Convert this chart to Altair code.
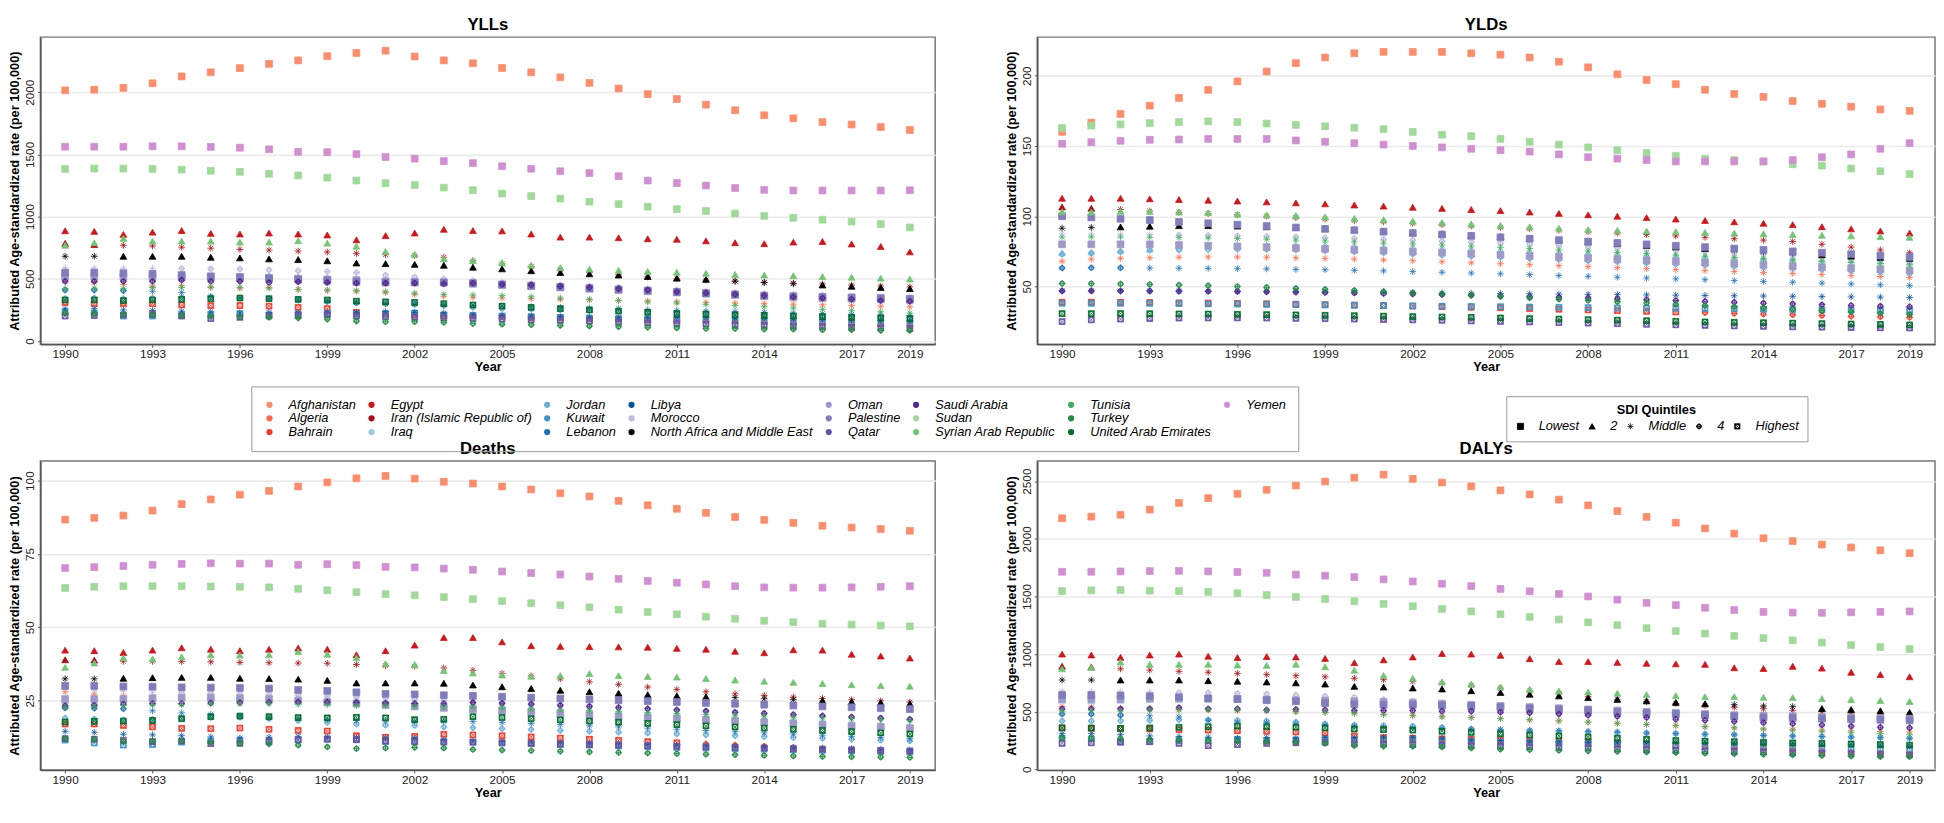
import altair as alt
import pandas as pd

YEARS = list(range(1990, 2020))

COUNTRIES = ["Afghanistan", "Algeria", "Bahrain", "Egypt", "Iran (Islamic Republic of)", "Iraq",
             "Jordan", "Kuwait", "Lebanon", "Libya", "Morocco", "North Africa and Middle East",
             "Oman", "Palestine", "Qatar", "Saudi Arabia", "Sudan", "Syrian Arab Republic",
             "Tunisia", "Turkey", "United Arab Emirates", "Yemen"]
COLORS = ["#FB8D6C", "#FB6A4A", "#EF3B2C", "#CB181D", "#A50F15", "#9ECAE1",
          "#6BAED6", "#4292C6", "#2171B5", "#08519C", "#BCBDDC", "#000000",
          "#9E9AC8", "#807DBA", "#6A51A3", "#54278F", "#A1D99B", "#74C476",
          "#41AB5D", "#238B45", "#006D2C", "#CF8FD0"]

QUINTILES = ["Lowest", "2", "Middle", "4", "Highest"]
ASTERISK = "M-1,0L1,0M0,-1L0,1M-0.7,-0.7L0.7,0.7M-0.7,0.7L0.7,-0.7"
CIRCLE_PLUS = ("M0,-0.75A0.75,0.75,0,1,1,0,0.75A0.75,0.75,0,1,1,0,-0.75Z"
               "M0,-0.55A0.55,0.55,0,1,0,0,0.55A0.55,0.55,0,1,0,0,-0.55Z"
               "M-1,0L1,0M0,-1L0,1")
BOXED_X = ("M-0.85,-0.85L0.85,-0.85L0.85,0.85L-0.85,0.85Z"
           "M-0.62,-0.62L-0.62,0.62L0.62,0.62L0.62,-0.62Z"
           "M-0.85,-0.85L0.85,0.85M-0.85,0.85L0.85,-0.85")
SHAPES = ["square", "triangle-up", ASTERISK, CIRCLE_PLUS, BOXED_X]

# SDI quintile of each location, with the year from which it applies
SDI_AFGHANISTAN = [(1990, "Lowest")]
SDI_ALGERIA = [(1990, "Middle")]
SDI_BAHRAIN = [(1990, "Highest"), (2012, "4")]
SDI_EGYPT = [(1990, "2")]
SDI_IRAN = [(1990, "2"), (1992, "Middle")]
SDI_IRAQ = [(1990, "2")]
SDI_JORDAN = [(1990, "4")]
SDI_KUWAIT = [(1990, "Highest")]
SDI_LEBANON = [(1990, "4"), (1993, "Middle")]
SDI_LIBYA = [(1990, "Middle")]
SDI_MOROCCO = [(1990, "Middle"), (1994, "4")]
SDI_NAME = [(1990, "Middle"), (1992, "2"), (2013, "Middle"), (2016, "2")]
SDI_OMAN = [(1990, "Lowest")]
SDI_PALESTINE = [(1990, "Lowest")]
SDI_QATAR = [(1990, "Highest")]
SDI_SAUDI = [(1990, "4")]
SDI_SUDAN = [(1990, "Lowest")]
SDI_SYRIA = [(1990, "2")]
SDI_TUNISIA = [(1990, "Middle")]
SDI_TURKEY = [(1990, "4")]
SDI_UAE = [(1990, "Highest")]
SDI_YEMEN = [(1990, "Lowest")]

# ---------------- YLLs ----------------
yll_afghanistan = [2015, 2020, 2035, 2072, 2127, 2160, 2194, 2228, 2256, 2290, 2316, 2334, 2287, 2256, 2233, 2195, 2160, 2120, 2075, 2030, 1985, 1945, 1900, 1855, 1815, 1790, 1760, 1740, 1720, 1696]
yll_algeria = [480, 470, 455, 440, 445, 430, 425, 430, 415, 405, 400, 390, 375, 360, 350, 345, 340, 335, 330, 325, 320, 315, 310, 305, 300, 295, 290, 285, 280, 275]
yll_bahrain = [310, 300, 300, 300, 290, 285, 285, 280, 270, 260, 230, 215, 210, 205, 200, 195, 190, 185, 180, 175, 170, 165, 160, 155, 150, 145, 140, 135, 130, 125]
yll_egypt = [886, 881, 857, 875, 888, 865, 860, 868, 860, 852, 813, 847, 868, 898, 888, 885, 860, 835, 835, 830, 822, 818, 805, 790, 782, 795, 800, 780, 760, 716]
yll_iran = [785, 775, 769, 764, 754, 746, 736, 731, 723, 715, 704, 694, 686, 673, 645, 620, 598, 575, 552, 532, 515, 500, 490, 480, 472, 465, 458, 450, 442, 435]
yll_iraq = [520, 515, 520, 525, 520, 525, 520, 530, 520, 510, 500, 490, 480, 470, 460, 450, 440, 430, 420, 410, 400, 395, 390, 385, 380, 375, 370, 360, 355, 350]
yll_jordan = [340, 345, 340, 345, 350, 350, 345, 340, 330, 315, 305, 300, 295, 285, 270, 260, 255, 250, 245, 240, 235, 230, 225, 220, 215, 210, 205, 200, 195, 190]
yll_kuwait = [230, 225, 200, 200, 210, 210, 220, 210, 215, 220, 215, 220, 225, 210, 205, 200, 195, 190, 185, 180, 175, 170, 165, 160, 155, 150, 150, 145, 140, 140]
yll_lebanon = [410, 410, 405, 400, 390, 360, 345, 340, 330, 320, 310, 300, 295, 290, 285, 280, 275, 270, 265, 260, 250, 245, 240, 235, 230, 225, 220, 215, 210, 205]
yll_libya = [260, 260, 250, 245, 240, 235, 225, 230, 225, 230, 230, 235, 230, 225, 210, 205, 200, 195, 190, 185, 185, 190, 190, 185, 185, 180, 175, 170, 165, 160]
yll_morocco = [590, 588, 586, 584, 583, 580, 578, 572, 565, 558, 550, 530, 515, 500, 485, 470, 460, 450, 440, 430, 420, 410, 400, 390, 380, 370, 362, 355, 350, 345]
yll_name = [681, 681, 681, 681, 681, 673, 668, 660, 655, 645, 627, 622, 616, 609, 593, 580, 565, 550, 540, 530, 518, 505, 495, 482, 470, 460, 450, 440, 430, 421]
yll_oman = [520, 520, 515, 515, 510, 510, 505, 505, 500, 495, 490, 480, 475, 470, 460, 450, 440, 430, 420, 410, 400, 390, 380, 370, 360, 350, 345, 340, 335, 330]
yll_palestine = [550, 550, 545, 540, 530, 520, 515, 505, 495, 485, 475, 470, 470, 470, 465, 455, 445, 435, 425, 415, 405, 395, 385, 375, 365, 360, 355, 350, 345, 340]
yll_qatar = [200, 205, 210, 215, 200, 180, 190, 200, 205, 210, 200, 195, 190, 185, 180, 175, 170, 165, 160, 150, 145, 140, 135, 130, 125, 120, 115, 110, 105, 100]
yll_saudi = [480, 480, 480, 480, 490, 480, 480, 470, 475, 470, 465, 465, 465, 460, 465, 455, 450, 440, 430, 420, 410, 395, 385, 375, 365, 355, 345, 335, 325, 320]
yll_sudan = [1383, 1386, 1386, 1383, 1378, 1368, 1360, 1344, 1331, 1313, 1290, 1269, 1254, 1233, 1212, 1185, 1165, 1145, 1120, 1100, 1080, 1060, 1045, 1025, 1005, 990, 975, 960, 940, 913]
yll_syria = [769, 790, 824, 803, 803, 803, 795, 795, 806, 787, 762, 720, 697, 661, 647, 630, 610, 590, 578, 568, 560, 553, 545, 535, 530, 525, 518, 512, 505, 498]
yll_tunisia = [420, 425, 420, 430, 430, 435, 430, 425, 415, 410, 405, 395, 385, 375, 370, 365, 355, 345, 335, 325, 315, 305, 295, 285, 275, 265, 255, 245, 235, 225]
yll_turkey = [225, 220, 215, 210, 205, 200, 195, 190, 185, 175, 160, 155, 155, 150, 140, 135, 130, 125, 120, 115, 110, 105, 100, 100, 95, 95, 90, 90, 85, 85]
yll_uae = [330, 330, 325, 330, 335, 340, 345, 340, 335, 330, 320, 315, 310, 300, 290, 280, 270, 260, 250, 240, 230, 220, 215, 210, 205, 200, 195, 190, 185, 180]
yll_yemen = [1562, 1562, 1562, 1565, 1565, 1560, 1554, 1541, 1520, 1518, 1502, 1479, 1466, 1446, 1430, 1405, 1385, 1365, 1350, 1325, 1290, 1270, 1250, 1230, 1215, 1210, 1210, 1210, 1210, 1212]

# ---------------- YLDs ----------------
yld_afghanistan = [160.1, 166.6, 172.8, 178.7, 184.2, 189.9, 196, 203, 209, 213, 216, 217, 217, 217, 216, 215, 213, 210, 206, 201, 197, 194, 190, 187, 185, 182, 180, 178, 176, 175]
yld_algeria = [67.9, 69.5, 70, 70.4, 70.8, 71, 71, 70.8, 70.4, 70, 69.5, 68.9, 68.3, 67.6, 66.9, 66.2, 65.5, 64.8, 64.1, 63.4, 62.7, 62, 61.3, 60.6, 59.9, 59.2, 58.5, 57.8, 57.1, 56.4]
yld_bahrain = [38.8, 38.8, 38.7, 38.6, 38.4, 38.2, 38, 37.7, 37.4, 37.1, 36.8, 36.4, 36, 35.6, 35.2, 34.8, 34.3, 33.8, 33.3, 32.8, 32.3, 31.8, 31.3, 30.8, 30.3, 29.8, 29.3, 28.8, 28.4, 28]
yld_egypt = [112.8, 112.8, 112.8, 112.4, 111.9, 111.4, 110.8, 110.2, 109.5, 108.8, 108, 107.2, 106.4, 105.6, 104.8, 104, 103, 102, 101, 100, 99, 98, 97, 96, 95, 94, 92.5, 91, 89.5, 88]
yld_iran = [106.6, 105.7, 104.8, 103.7, 102.8, 101.9, 101, 100, 99, 98, 97, 96, 95, 94, 93, 92, 91, 90, 89, 88, 87, 86, 85, 84, 83, 82, 80, 78, 76, 74]
yld_iraq = [74, 74.5, 75.5, 76.5, 78.9, 79, 79.3, 79.5, 79.4, 79.2, 78.8, 78.3, 77.8, 77.2, 76.6, 76, 75.4, 74.8, 74.2, 73.6, 73, 72.4, 71.8, 71.2, 70.6, 70, 69.4, 68.8, 68.2, 67.6]
yld_jordan = [72.9, 73.8, 74.8, 75.9, 75.9, 76.3, 76.5, 76.4, 76, 75.4, 74.7, 74, 73.2, 72.4, 71.6, 70.8, 70, 69.2, 68.4, 67.6, 66.8, 66, 65.2, 64.4, 63.6, 62.8, 62, 61.2, 60.4, 59.6]
yld_kuwait = [38, 38, 38, 38, 37.8, 37.6, 37.4, 37.2, 37, 36.8, 36.6, 36.4, 36.2, 36, 35.8, 35.6, 35.4, 35.2, 35, 34.8, 34.6, 34.4, 34.2, 34, 33.8, 33.6, 33.4, 33.2, 33, 32.8]
yld_lebanon = [63.1, 63.3, 63.3, 63.1, 63, 62.9, 62.7, 62.5, 62.2, 61.9, 61.5, 61.1, 60.6, 60.1, 59.6, 59, 58.4, 57.8, 57.2, 56.6, 56, 55.4, 54.8, 54.2, 53.6, 53, 52.4, 51.8, 51.2, 50.6]
yld_libya = [47, 47, 46.9, 46.8, 46.7, 46.6, 46.5, 46.4, 46.3, 46.2, 46, 45.8, 45.6, 45.4, 45.2, 45, 44.8, 44.6, 44.4, 44.2, 44, 43.8, 43.6, 43.4, 43.2, 43, 42.8, 42.6, 42.4, 42.2]
yld_morocco = [87.4, 87.3, 87.1, 86.9, 86.6, 86.3, 86, 85.6, 85.2, 84.7, 84.2, 83.6, 83, 82.3, 81.6, 80.8, 80, 79.2, 78.4, 77.5, 76.6, 75.7, 74.8, 73.9, 73, 72, 71, 70, 69, 68]
yld_name = [91.5, 92, 92.4, 92.9, 93.3, 93.3, 93, 92.5, 92, 91.3, 90.5, 89.5, 88.5, 87.5, 86.5, 85.5, 84.3, 83, 81.8, 80.5, 79.3, 78.2, 77, 75.8, 74.7, 73.6, 72.6, 71.6, 70.7, 70]
yld_oman = [80, 80, 80, 80, 79.5, 79, 78.5, 78, 77.4, 76.8, 76.2, 75.5, 74.8, 74.1, 73.4, 72.6, 71.8, 71, 70.2, 69.4, 68.6, 67.8, 67, 66.2, 65.4, 64.6, 63.8, 63, 62.2, 61.4]
yld_palestine = [100, 99.2, 98.2, 97.3, 95.9, 95, 94, 93, 92, 91, 90, 89, 88, 87, 86, 85, 84, 83, 82, 81, 80, 79, 78, 77, 76, 75, 74, 73, 72, 71]
yld_qatar = [25, 26.2, 26.8, 27.2, 27.5, 27.6, 27.6, 27.5, 27.3, 27.1, 26.8, 26.5, 26.2, 25.9, 25.5, 25.1, 24.7, 24.3, 23.9, 23.5, 23.1, 22.7, 22.3, 21.9, 21.6, 21.3, 21, 20.8, 20.6, 20.4]
yld_saudi = [46.8, 46.8, 46.8, 46.8, 46.7, 46.6, 46.4, 46.2, 46, 45.7, 45.4, 45, 44.6, 44.2, 43.8, 43.3, 42.8, 42.3, 41.8, 41.2, 40.6, 40, 39.4, 38.8, 38.2, 37.6, 37, 36.5, 36, 35.6]
yld_sudan = [162.8, 164.5, 165.4, 166.3, 167, 167.5, 167, 166, 165, 164, 163, 162, 160, 158, 157, 155, 153, 151, 149, 147, 145, 143, 141, 140, 139, 137, 136, 134, 132, 130]
yld_syria = [103.2, 103, 103.5, 103.5, 103, 102.5, 101.5, 101, 100.5, 99.5, 98.5, 97.5, 96.5, 95.5, 94.5, 93.5, 92.5, 91.5, 90.5, 90, 89.5, 89, 88.5, 88, 87.5, 87, 86.5, 86, 85.5, 85]
yld_tunisia = [85.1, 85.2, 85.2, 85, 84.8, 84.5, 84.1, 83.6, 83, 82.4, 81.7, 81, 80.3, 79.5, 78.7, 77.9, 77, 76.1, 75.2, 74.3, 73.4, 72.5, 71.6, 70.7, 69.8, 68.9, 68, 67.1, 66.2, 65.3]
yld_turkey = [52.1, 52, 51.8, 51.5, 51.1, 50.6, 50, 49.4, 48.7, 48, 47.2, 46.4, 45.5, 44.6, 43.7, 42.8, 41.9, 41, 40.1, 39.2, 38.3, 37.4, 36.5, 35.6, 34.7, 33.8, 32.9, 32, 31, 30]
yld_uae = [30.7, 30.7, 30.7, 30.6, 30.5, 30.4, 30.2, 30, 29.8, 29.5, 29.2, 28.9, 28.6, 28.3, 28, 27.6, 27.2, 26.8, 26.4, 26, 25.6, 25.2, 24.8, 24.5, 24.2, 23.9, 23.6, 23.3, 23, 22.7]
yld_yemen = [151.6, 152.7, 153.7, 154.4, 154.6, 155, 155, 155, 154, 153, 152, 151, 150, 149, 148, 147, 146, 144, 142, 141, 140, 139, 139, 139, 139, 140, 142, 144, 148, 152]

# ---------------- Deaths ----------------
death_afghanistan = [86.7, 87.3, 88.1, 89.8, 92.0, 93.6, 95.2, 96.5, 98.0, 99.4, 100.8, 101.6, 100.7, 99.6, 99.0, 98.0, 97.0, 95.7, 94.6, 93.1, 91.6, 90.4, 89.0, 87.6, 86.6, 85.6, 84.6, 84.0, 83.5, 82.9]
death_algeria = [28, 27.2, 26.6, 26.2, 25.8, 25.5, 25.2, 24.9, 24.6, 24.3, 24, 23.7, 23.2, 22.6, 22, 21.5, 21, 20.6, 20.2, 19.8, 19.4, 19, 18.6, 18.2, 17.8, 17.4, 17, 16.6, 16.2, 15.8]
death_bahrain = [17, 17, 16.5, 16, 15.5, 15.4, 15.6, 15.2, 14.8, 14.6, 13, 12.5, 12.8, 13.5, 13.3, 13, 12.6, 12.2, 11.8, 11.4, 11, 10.6, 10.2, 9.8, 9.4, 9, 8.6, 8.2, 7.8, 7.5]
death_egypt = [42.2, 42.0, 41.4, 42.2, 43.0, 42.5, 42.0, 42.5, 42.9, 42.5, 40.6, 42.0, 43.9, 46.5, 46.5, 45.0, 43.7, 43.5, 43.4, 43.3, 43.2, 42.8, 42.5, 41.8, 41.3, 42.3, 42.2, 40.8, 40.2, 39.5]
death_iran = [38.9, 38.8, 38.4, 38.4, 38.3, 38.2, 38.0, 37.9, 37.8, 37.7, 37.3, 36.9, 36.7, 36.1, 35.3, 34.3, 33.4, 32.4, 31.4, 30.5, 29.6, 28.8, 28.0, 27.3, 26.7, 26.2, 25.7, 25.3, 24.9, 24.5]
death_iraq = [25, 24.5, 25.5, 26, 26, 26.5, 26, 26, 26, 26, 25.5, 25, 24.5, 24, 24, 23.5, 23, 22.5, 22, 21.5, 21, 20.5, 20, 19.5, 19, 18.5, 18, 17.5, 17, 16.5]
death_jordan = [19, 18.7, 18.4, 18.6, 19, 19.2, 19.3, 18.8, 18.2, 17.5, 17, 16.6, 16.5, 16, 15.7, 15.4, 15.1, 14.8, 14.5, 14.2, 13.9, 13.6, 13.3, 13, 12.7, 12.4, 12.1, 11.8, 11.5, 11.2]
death_kuwait = [11.5, 10.5, 9.8, 10, 10.8, 11.2, 11.5, 11.3, 11.6, 11.8, 11.6, 11, 11.3, 11, 10.8, 10.5, 10.3, 10, 9.8, 9.5, 9.3, 9, 8.8, 8.6, 8.4, 8.2, 8, 7.8, 7.6, 7.4]
death_lebanon = [22.5, 22.4, 22.2, 21.5, 20.8, 20.2, 19.8, 19.3, 18.8, 18.5, 18.2, 18, 17.9, 17.9, 17.8, 17.5, 17.2, 16.8, 16.4, 16, 15.6, 15.2, 14.8, 14.4, 14, 13.6, 13.2, 12.8, 12.4, 12]
death_libya = [14.5, 14.2, 13.5, 13.3, 13, 12.6, 12.2, 12.5, 12.8, 12.5, 12.4, 12.3, 12.2, 11.6, 11.2, 11, 10.8, 10.6, 10.4, 10.2, 10, 9.8, 9.6, 9.4, 9.2, 9, 8.8, 8.6, 8.4, 8.2]
death_morocco = [29, 28.5, 28.2, 27.8, 27.6, 27.4, 27.2, 27, 26.8, 26.5, 26.2, 25.8, 25.4, 25, 24.6, 24.2, 23.8, 23.4, 23, 22.6, 22.2, 21.8, 21.4, 21, 20.6, 20.2, 19.8, 19.4, 19, 18.6]
death_name = [32.4, 32.4, 32.6, 32.8, 32.9, 32.9, 32.6, 32.5, 32.3, 31.9, 31.0, 31.0, 31.0, 30.9, 30.3, 29.7, 29.1, 28.5, 28.0, 27.5, 27.0, 26.6, 26.3, 26.0, 25.6, 25.3, 25.0, 24.6, 24.3, 23.9]
death_oman = [25.5, 25.5, 25.5, 25.8, 26, 26, 25.8, 25.5, 25, 24.5, 24, 23.5, 23, 22.5, 22, 21.5, 21, 20.5, 20, 19.6, 19.2, 18.8, 18.4, 18, 17.6, 17.2, 16.8, 16.4, 16, 15.6]
death_palestine = [30, 30, 29.8, 29.7, 29.5, 29.4, 29.3, 29.1, 28.6, 28.3, 27.8, 27.3, 27.1, 26.8, 26.6, 26.3, 26, 25.7, 25.4, 25.1, 24.8, 24.5, 24.2, 23.9, 23.6, 23.3, 23, 22.7, 22.4, 22.1]
death_qatar = [12, 11.8, 11.4, 11, 11.2, 10.3, 10.4, 11, 11.6, 11.9, 11.7, 11.2, 10.9, 10.8, 10.8, 10.6, 10.4, 10.2, 10, 9.8, 9.6, 9.4, 9.2, 9, 8.8, 8.6, 8.4, 8.2, 8, 7.8]
death_saudi = [23.2, 23.4, 23.8, 24, 24, 24.2, 24.3, 24.4, 24.5, 24.5, 24.3, 24.1, 24, 24, 24.3, 24.1, 23.8, 23.4, 23, 22.6, 22.2, 21.8, 21.4, 21, 20.6, 20.2, 19.8, 19.4, 19, 18.6]
death_sudan = [63.4, 63.8, 64.0, 64.0, 64.0, 63.9, 63.8, 63.6, 63.1, 62.6, 62.0, 61.3, 60.9, 60.3, 59.6, 58.9, 58.2, 57.5, 56.8, 56.0, 55.2, 54.4, 53.6, 52.9, 52.2, 51.7, 51.2, 50.9, 50.6, 50.3]
death_syria = [36.3, 37.8, 39.6, 39.2, 39.9, 40.6, 40.5, 40.6, 41.7, 40.8, 39.6, 37.6, 37.3, 35.2, 34.4, 33.7, 33.3, 33.5, 34.2, 33.5, 33.2, 33.0, 32.5, 32.0, 31.6, 31.2, 30.8, 30.4, 30.1, 29.9]
death_tunisia = [22.6, 23, 23.3, 23.5, 23.6, 23.8, 23.9, 23.9, 23.7, 23.5, 23.3, 23.2, 23, 22.8, 22.7, 22.4, 22.1, 21.8, 21.5, 21.2, 20.9, 20.6, 20.3, 20, 19.7, 19.4, 19.1, 18.8, 18.5, 18.2]
death_turkey = [12, 11.8, 11, 11.2, 11.3, 10.8, 10.5, 10.2, 9.8, 9.2, 8.6, 8.8, 9, 8.8, 8.3, 8.1, 7.9, 7.7, 7.5, 7.3, 7.1, 6.9, 6.7, 6.5, 6.3, 6.1, 5.9, 5.8, 5.7, 5.6]
death_uae = [17.7, 17.9, 18, 18.2, 18.8, 19.5, 19.7, 19.5, 19.2, 19.1, 19.3, 19.1, 18.5, 18.6, 19.5, 19.2, 18.8, 18.4, 18, 17.6, 17.2, 16.8, 16.4, 16, 15.6, 15.2, 14.8, 14.4, 14, 13.6]
death_yemen = [70.2, 70.5, 70.9, 71.3, 71.6, 71.8, 71.7, 71.7, 71.3, 71.5, 71.2, 70.6, 70.4, 70.0, 69.6, 69.0, 68.5, 68.0, 67.3, 66.5, 65.8, 65.2, 64.6, 64.0, 63.6, 63.5, 63.5, 63.6, 63.8, 64.0]

# ---------------- DALYs ----------------
daly_afghanistan = [2178, 2192, 2208, 2253, 2311, 2353, 2390, 2425, 2462, 2497, 2530, 2557, 2520, 2488, 2455, 2420, 2385, 2340, 2290, 2240, 2190, 2140, 2090, 2045, 2005, 1980, 1950, 1925, 1900, 1875]
daly_algeria = [545, 540, 530, 525, 520, 515, 510, 510, 500, 495, 490, 480, 470, 460, 450, 440, 430, 420, 410, 400, 390, 380, 370, 360, 350, 345, 340, 335, 330, 325]
daly_bahrain = [360, 355, 355, 350, 345, 340, 335, 330, 325, 315, 290, 275, 270, 265, 260, 255, 250, 245, 240, 230, 220, 210, 200, 190, 180, 170, 160, 150, 140, 130]
daly_egypt = [1000, 992, 972, 992, 1000, 981, 970, 978, 975, 962, 925, 950, 975, 1005, 1000, 990, 960, 935, 935, 928, 920, 915, 911, 881, 875, 894, 878, 842, 822, 803]
daly_iran = [894, 889, 872, 861, 850, 842, 832, 822, 812, 802, 790, 778, 764, 748, 728, 705, 680, 655, 630, 608, 588, 570, 554, 539, 525, 512, 500, 488, 476, 465]
daly_iraq = [600, 595, 600, 605, 605, 610, 605, 610, 600, 590, 580, 570, 560, 550, 540, 530, 520, 510, 500, 490, 480, 475, 470, 465, 460, 455, 450, 440, 435, 430]
daly_jordan = [420, 420, 420, 425, 430, 430, 425, 420, 410, 395, 385, 380, 375, 365, 350, 340, 335, 330, 325, 320, 315, 310, 305, 300, 295, 290, 285, 280, 275, 270]
daly_kuwait = [270, 265, 240, 240, 250, 250, 260, 250, 255, 260, 255, 255, 260, 245, 240, 235, 230, 225, 220, 215, 210, 205, 200, 195, 190, 185, 180, 175, 170, 170]
daly_lebanon = [480, 480, 470, 465, 455, 425, 410, 405, 395, 385, 375, 365, 360, 355, 350, 345, 340, 335, 330, 325, 315, 310, 305, 300, 295, 290, 285, 280, 275, 270]
daly_libya = [310, 310, 300, 290, 285, 280, 270, 275, 270, 275, 275, 280, 275, 270, 255, 250, 245, 240, 235, 230, 230, 235, 235, 230, 230, 225, 220, 215, 210, 205]
daly_morocco = [680, 675, 675, 670, 665, 665, 660, 655, 645, 635, 625, 605, 590, 575, 560, 550, 540, 530, 520, 510, 500, 490, 480, 470, 460, 450, 440, 430, 420, 410]
daly_name = [775, 775, 775, 775, 775, 769, 764, 758, 750, 740, 720, 714, 706, 697, 682, 667, 652, 637, 622, 607, 594, 581, 569, 561, 550, 544, 528, 519, 508, 494]
daly_oman = [610, 610, 610, 615, 620, 615, 610, 605, 600, 595, 590, 585, 580, 570, 560, 550, 540, 530, 520, 510, 500, 490, 480, 470, 465, 460, 455, 450, 445, 440]
daly_palestine = [645, 645, 640, 635, 625, 615, 610, 600, 590, 575, 565, 560, 560, 555, 550, 540, 530, 520, 510, 500, 490, 480, 470, 460, 450, 445, 440, 435, 430, 425]
daly_qatar = [225, 230, 235, 240, 225, 205, 215, 225, 230, 235, 225, 220, 215, 210, 205, 200, 195, 190, 185, 175, 170, 165, 160, 155, 150, 145, 140, 135, 130, 125]
daly_saudi = [525, 525, 525, 525, 535, 525, 525, 515, 520, 515, 510, 510, 510, 505, 505, 495, 490, 480, 470, 460, 450, 435, 425, 415, 405, 395, 385, 375, 365, 360]
daly_sudan = [1547, 1553, 1556, 1550, 1547, 1539, 1528, 1512, 1495, 1478, 1458, 1435, 1415, 1392, 1370, 1346, 1322, 1300, 1275, 1250, 1225, 1200, 1178, 1158, 1139, 1119, 1100, 1078, 1061, 1044]
daly_syria = [872, 883, 931, 911, 911, 911, 905, 902, 912, 890, 860, 815, 790, 760, 740, 715, 695, 680, 672, 660, 648, 640, 631, 631, 626, 622, 614, 606, 597, 589]
daly_tunisia = [505, 510, 505, 515, 515, 520, 515, 510, 500, 495, 485, 475, 465, 455, 450, 440, 430, 420, 410, 400, 390, 380, 370, 360, 350, 340, 330, 320, 310, 300]
daly_turkey = [275, 270, 265, 260, 255, 250, 245, 240, 235, 225, 205, 200, 200, 195, 185, 175, 170, 165, 160, 155, 150, 145, 140, 135, 130, 125, 120, 115, 110, 110]
daly_uae = [360, 360, 355, 360, 365, 370, 375, 370, 365, 360, 350, 345, 340, 330, 320, 310, 300, 290, 280, 270, 260, 250, 245, 240, 235, 230, 225, 220, 215, 210]
daly_yemen = [1714, 1714, 1717, 1720, 1722, 1717, 1712, 1705, 1690, 1680, 1668, 1648, 1630, 1610, 1590, 1565, 1545, 1522, 1500, 1472, 1445, 1425, 1402, 1382, 1366, 1360, 1358, 1362, 1366, 1370]

# ---------------- assemble the long table ----------------
SDI = [SDI_AFGHANISTAN, SDI_ALGERIA, SDI_BAHRAIN, SDI_EGYPT, SDI_IRAN, SDI_IRAQ, SDI_JORDAN,
       SDI_KUWAIT, SDI_LEBANON, SDI_LIBYA, SDI_MOROCCO, SDI_NAME, SDI_OMAN, SDI_PALESTINE,
       SDI_QATAR, SDI_SAUDI, SDI_SUDAN, SDI_SYRIA, SDI_TUNISIA, SDI_TURKEY, SDI_UAE, SDI_YEMEN]
MEASURES = {
    "YLLs": [yll_afghanistan, yll_algeria, yll_bahrain, yll_egypt, yll_iran, yll_iraq, yll_jordan,
             yll_kuwait, yll_lebanon, yll_libya, yll_morocco, yll_name, yll_oman, yll_palestine,
             yll_qatar, yll_saudi, yll_sudan, yll_syria, yll_tunisia, yll_turkey, yll_uae, yll_yemen],
    "YLDs": [yld_afghanistan, yld_algeria, yld_bahrain, yld_egypt, yld_iran, yld_iraq, yld_jordan,
             yld_kuwait, yld_lebanon, yld_libya, yld_morocco, yld_name, yld_oman, yld_palestine,
             yld_qatar, yld_saudi, yld_sudan, yld_syria, yld_tunisia, yld_turkey, yld_uae, yld_yemen],
    "Deaths": [death_afghanistan, death_algeria, death_bahrain, death_egypt, death_iran, death_iraq,
               death_jordan, death_kuwait, death_lebanon, death_libya, death_morocco, death_name,
               death_oman, death_palestine, death_qatar, death_saudi, death_sudan, death_syria,
               death_tunisia, death_turkey, death_uae, death_yemen],
    "DALYs": [daly_afghanistan, daly_algeria, daly_bahrain, daly_egypt, daly_iran, daly_iraq,
              daly_jordan, daly_kuwait, daly_lebanon, daly_libya, daly_morocco, daly_name,
              daly_oman, daly_palestine, daly_qatar, daly_saudi, daly_sudan, daly_syria,
              daly_tunisia, daly_turkey, daly_uae, daly_yemen],
}


def quintile(schedule, year):
    q = schedule[0][1]
    for start, name in schedule:
        if year >= start:
            q = name
    return q


rows = []
for measure, series in MEASURES.items():
    for country, values, sched in zip(COUNTRIES, series, SDI):
        assert len(values) == len(YEARS), (measure, country, len(values))
        for year, v in zip(YEARS, values):
            rows.append({"measure": measure, "country": country, "year": year,
                         "value": v, "quintile": quintile(sched, year)})
df = pd.DataFrame(rows)

FONT = "Liberation Sans"
# two empty legend slots so that the 8-column legend fills 3 rows like the original
LEGEND_DOMAIN = COUNTRIES + [" ", "  "]
LEGEND_RANGE = COLORS + ["rgba(0,0,0,0)", "rgba(0,0,0,0)"]
color_scale = alt.Scale(domain=LEGEND_DOMAIN, range=LEGEND_RANGE)
shape_scale = alt.Scale(domain=QUINTILES, range=SHAPES)

# legend coordinates are measured from the top-left plot's origin
country_legend = alt.Legend(
    title=None, orient="none", legendX=215, legendY=356, columns=8, symbolType="circle",
    symbolSize=40, symbolStrokeWidth=0, labelFont=FONT, labelFontStyle="italic", labelFontSize=13,
    labelColor="black", rowPadding=-2, columnPadding=9, labelOffset=13, padding=12,
    strokeColor="#9a9a9a", labelLimit=400)
shape_legend = alt.Legend(
    title="SDI Quintiles", orient="none", legendX=1494, legendY=366, direction="horizontal",
    titleAnchor="middle", titleFont=FONT, titleFontSize=13, titleFontWeight="bold",
    titleColor="black", titlePadding=3, labelFont=FONT, labelFontStyle="italic",
    labelFontSize=13, labelColor="black", symbolFillColor="black", symbolStrokeColor="black",
    symbolSize=40, symbolStrokeWidth=0.8, columnPadding=6, labelOffset=12, padding=8,
    strokeColor="#9a9a9a")

XDOMAIN = [1989.15, 2019.87]
XTICKS = [1990, 1993, 1996, 1999, 2002, 2005, 2008, 2011, 2014, 2017, 2019]
YTITLE = "Attributed Age-standardized rate (per 100,000)"
PANELS = {
    "YLLs": ([-26, 2443], [0, 500, 1000, 1500, 2000]),
    "YLDs": ([8.9, 227.5], [50, 100, 150, 200]),
    "Deaths": ([1.3, 106.7], [25, 50, 75, 100]),
    "DALYs": ([-6, 2675], [0, 500, 1000, 1500, 2000, 2500]),
}

axis_common = dict(labelFont=FONT, labelFontSize=12, labelColor="#222", titleFont=FONT,
                   titleFontSize=13, titleFontWeight="bold", titleColor="black",
                   domainColor="#555", domainWidth=1.6, tickColor="#555", tickSize=3)


def panel(measure, width, height):
    ydom, yticks = PANELS[measure]
    return alt.Chart(df).transform_filter(alt.datum.measure == measure).mark_point(
        filled=True, size=48, strokeWidth=0.8, opacity=1
    ).encode(
        x=alt.X("year:Q", scale=alt.Scale(domain=XDOMAIN, nice=False, zero=False),
                axis=alt.Axis(values=XTICKS, format="d", title="Year", grid=False,
                              labelPadding=2, titlePadding=1, **axis_common)),
        y=alt.Y("value:Q", scale=alt.Scale(domain=ydom, nice=False, zero=False),
                axis=alt.Axis(values=yticks, format="d", title=YTITLE, grid=True,
                              gridColor="#EBEBEB", gridWidth=1.6, labelAngle=270,
                              labelPadding=1, titlePadding=2, **axis_common)),
        fill=alt.Fill("country:N", scale=color_scale, legend=country_legend),
        stroke=alt.Stroke("country:N", scale=color_scale, legend=None),
        shape=alt.Shape("quintile:N", scale=shape_scale, legend=shape_legend),
    ).properties(
        width=width, height=height,
        title=alt.TitleParams(measure, font=FONT, fontSize=17, fontWeight="bold",
                              color="black", anchor="middle", offset=3),
    )


res = dict(x="independent", y="independent", fill="shared", stroke="shared", shape="shared")
top = alt.hconcat(panel("YLLs", 912, 313), panel("YLDs", 915, 313), spacing=70).resolve_scale(**res)
bottom = alt.hconcat(panel("Deaths", 912, 315), panel("DALYs", 915, 315), spacing=70).resolve_scale(**res)

chart = alt.vconcat(top, bottom, spacing=66).resolve_scale(**res).properties(
    padding={"left": 0, "top": 0, "right": 0, "bottom": 0}
).configure_view(stroke="#777", strokeWidth=1.5)

chart.save("out.html", embed_options={"renderer": "svg", "actions": False})
